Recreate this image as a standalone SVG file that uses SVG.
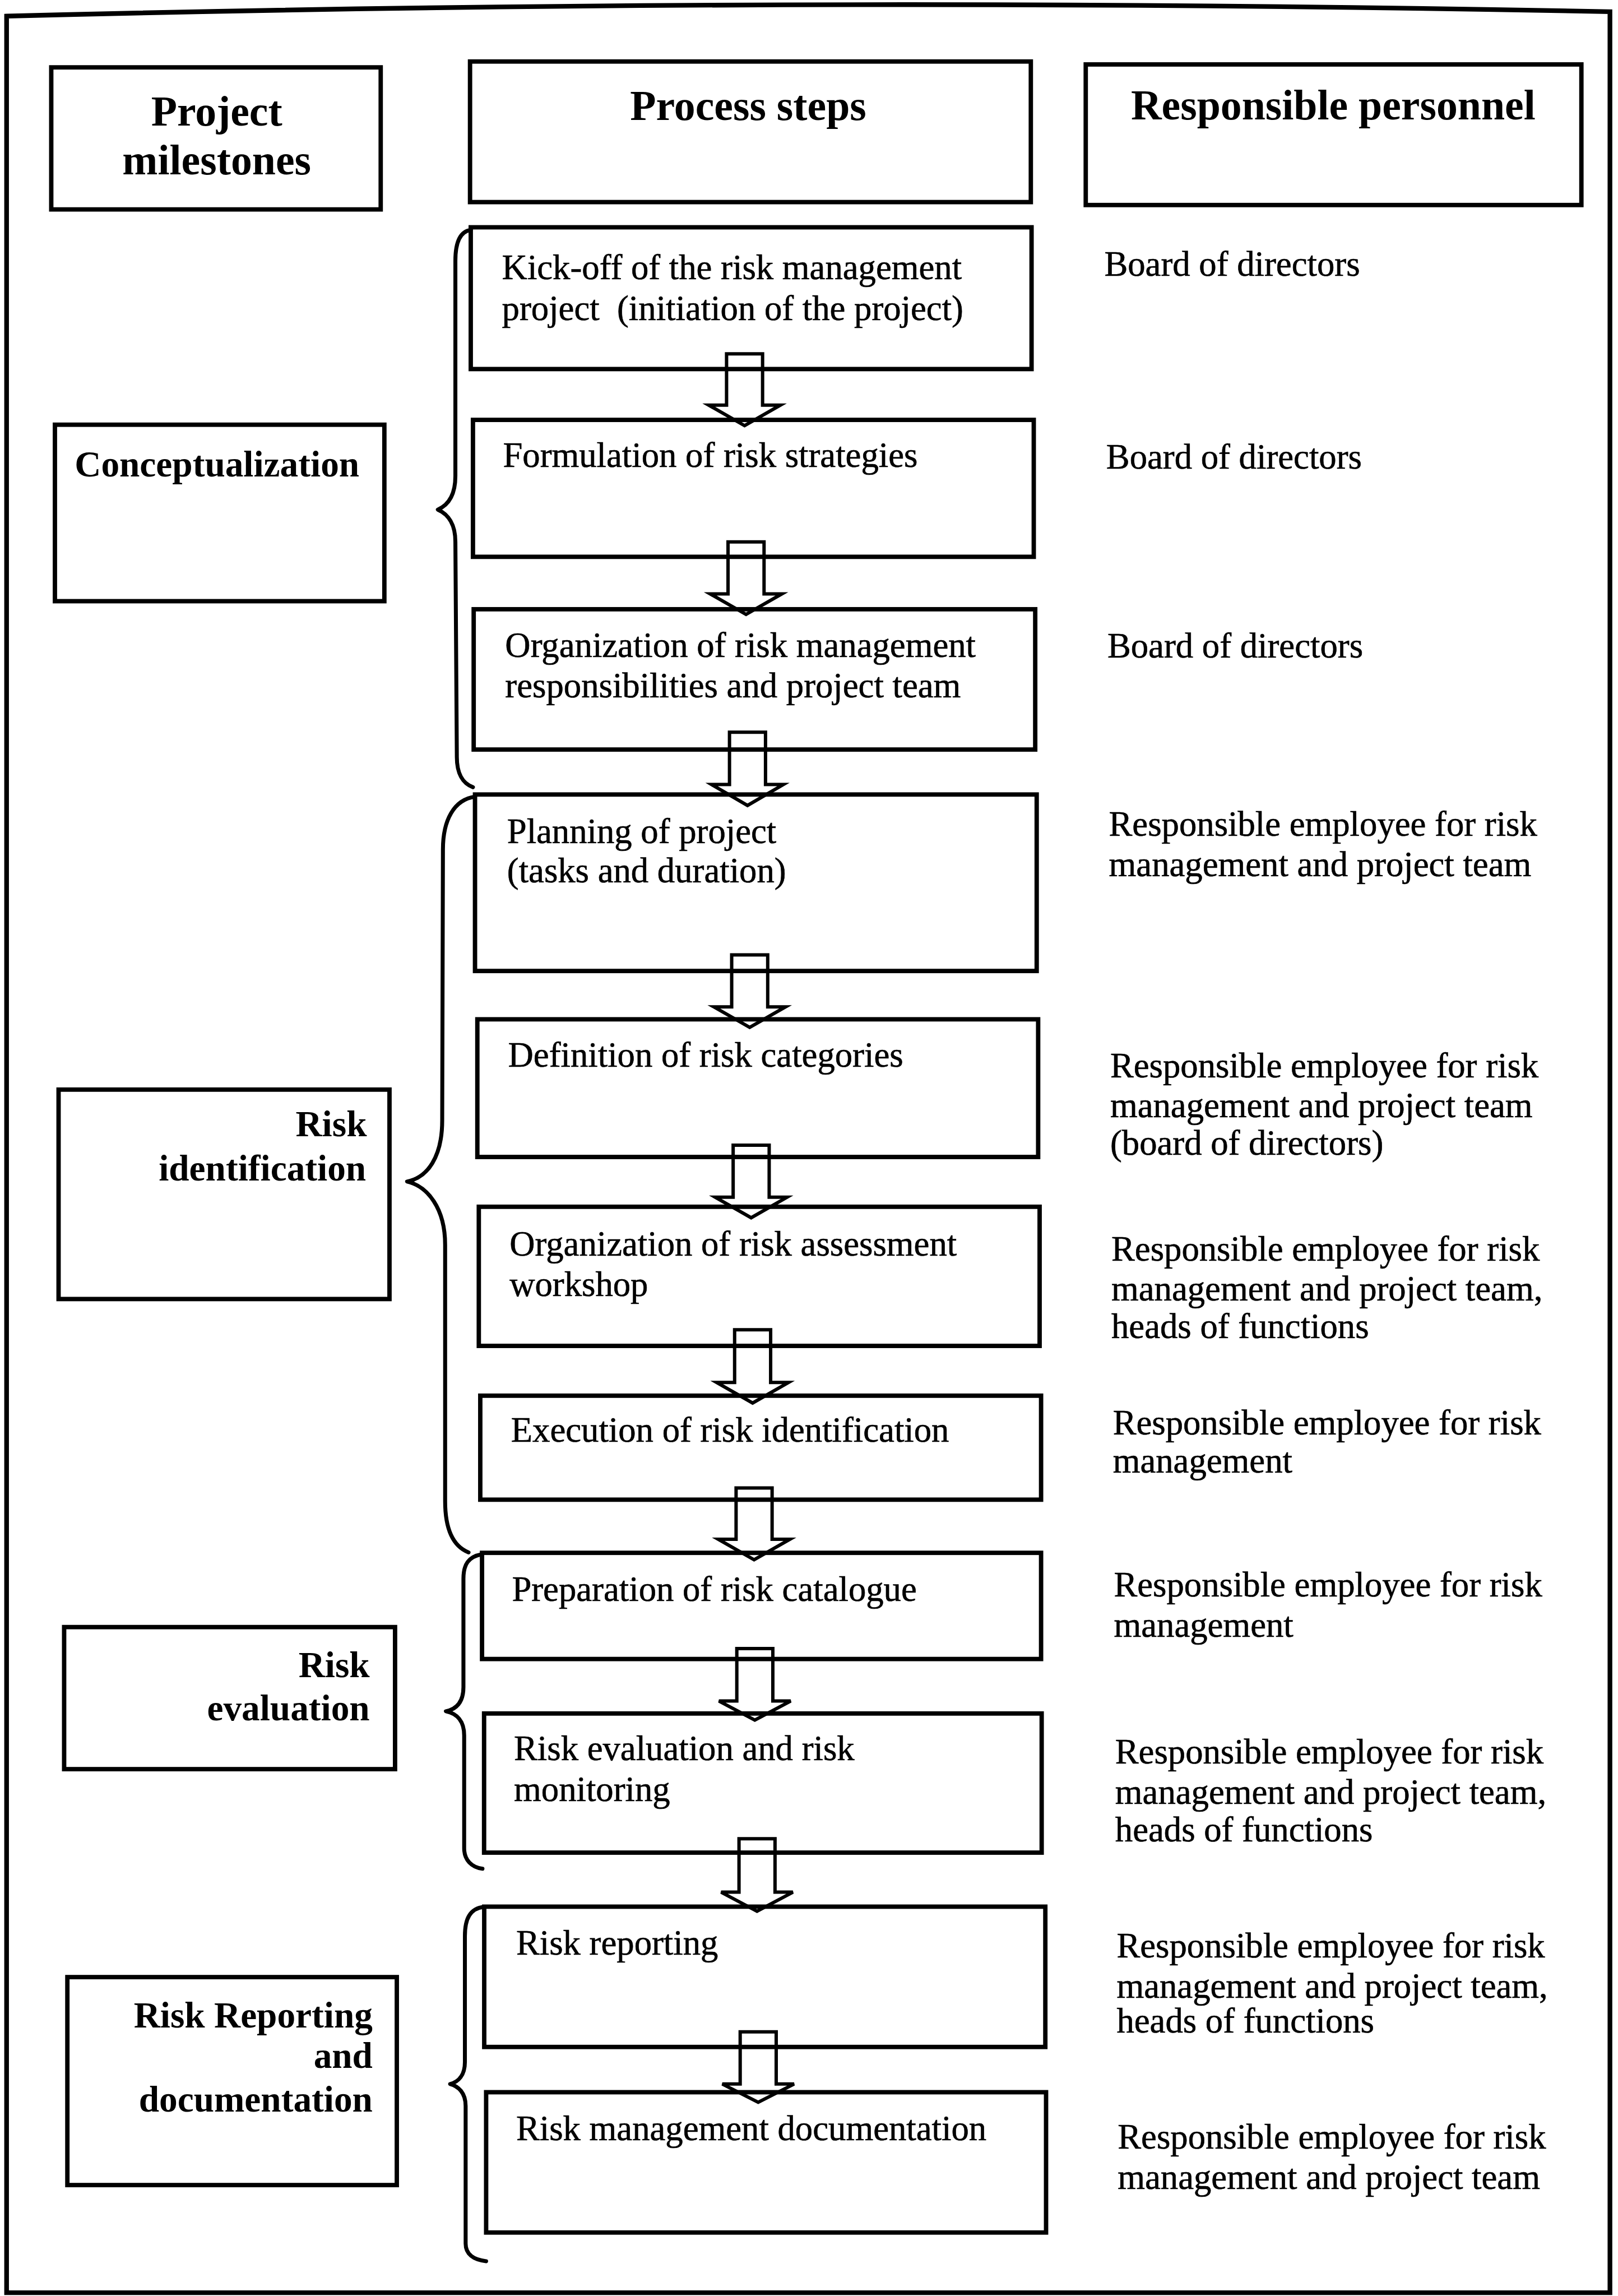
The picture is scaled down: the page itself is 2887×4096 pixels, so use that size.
<svg xmlns="http://www.w3.org/2000/svg" width="2887" height="4096" viewBox="0 0 2887 4096">
  <style>
    .box { fill: none; stroke: #000; stroke-width: 3; }
    .frame { fill: none; stroke: #000; stroke-width: 3.2; }
    .arrow { fill: #fff; stroke: #000; stroke-width: 2.3; stroke-linejoin: miter; }
    .brace { fill: none; stroke: #000; stroke-width: 2.7; stroke-linecap: round; stroke-linejoin: round; }
    text { font-family: "Liberation Serif", "Times New Roman", serif; fill: #000; }
    .hdr { font-weight: bold; font-size: 29px; text-anchor: middle; }
    .ms { font-weight: bold; font-size: 25px; }
    .msr { font-weight: bold; font-size: 25px; text-anchor: end; }
    .txt { font-size: 24px; stroke: #000; stroke-width: 0.25; }
  </style>
  <rect x="0" y="0" width="2887" height="4096" fill="#fff"/>
  <!-- drawing laid out on a 1105 x 1568 grid, scaled to the page -->
  <g transform="scale(2.61267)">
    <!-- outer frame -->
    <path class="frame" d="M 4.5 11 Q 552 -3 1099.5 8 L 1099.5 1565.5 L 4.5 1565.5 Z"/>

    <!-- column headers -->
    <g id="hdr-milestones">
      <rect class="box" x="35" y="46" width="225" height="97"/>
      <text class="hdr" x="148" y="85.8">Project</text>
      <text class="hdr" x="148" y="119">milestones</text>
    </g>
    <g id="hdr-steps">
      <rect class="box" x="321" y="42" width="383" height="96"/>
      <text class="hdr" x="511" y="82">Process steps</text>
    </g>
    <g id="hdr-personnel">
      <rect class="box" x="741.5" y="44" width="338.5" height="96"/>
      <text class="hdr" x="910.5" y="81.6">Responsible personnel</text>
    </g>

    <!-- connectors: block arrows between steps and braces grouping steps into milestones -->
    <g id="connectors">
      <polygon class="arrow" points="496.2,241.6 520.8,241.6 520.8,276.6 533,276.6 508.5,290.6 484,276.6 496.2,276.6"/>
      <polygon class="arrow" points="497.2,370 521.8,370 521.8,405.5 534,405.5 509.5,419.5 485,405.5 497.2,405.5"/>
      <polygon class="arrow" points="498.2,500 522.8,500 522.8,535.7 535,535.7 510.5,550 486,535.7 498.2,535.7"/>
      <polygon class="arrow" points="499.7,652 524.3,652 524.3,687.5 536.5,687.5 512,701.5 487.5,687.5 499.7,687.5"/>
      <polygon class="arrow" points="500.7,782 525.3,782 525.3,817.5 537.5,817.5 513,831.5 488.5,817.5 500.7,817.5"/>
      <polygon class="arrow" points="501.7,908 526.3,908 526.3,944 538.5,944 514,958 489.5,944 501.7,944"/>
      <polygon class="arrow" points="502.7,1016 527.3,1016 527.3,1051 539.5,1051 515,1065 490.5,1051 502.7,1051"/>
      <polygon class="arrow" points="503.2,1125.7 527.8,1125.7 527.8,1161.5 540,1161.5 515.5,1174.5 491,1161.5 503.2,1161.5"/>
      <polygon class="arrow" points="504.7,1255.5 529.3,1255.5 529.3,1292 541.5,1292 517,1305 492.5,1292 504.7,1292"/>
      <polygon class="arrow" points="505.5,1387.4 530.1,1387.4 530.1,1423 542.3,1423 517.8,1435.5 493.3,1423 505.5,1423"/>

      <path class="brace" d="M 321.5 157 C 314 158 311 166 311 178 L 311 325 C 311 338 306 345 299 348 C 306 351 311 358 311 370 L 312 517 C 312 528 316 535 323 537.5"/>
      <path class="brace" d="M 324.4 544 C 310 546 302.5 560 302.5 580 L 302 765 C 302 790 292 804 278 806.8 C 292 810 304 825 304 850 L 304 1025 C 304 1045 310 1056 320 1060"/>
      <path class="brace" d="M 329 1061.3 C 320 1063 316.5 1068 316.5 1078 L 316.5 1152 C 316.5 1162 312 1167 304.5 1168.5 C 312 1170 317 1175 317 1185 L 317 1262 C 317 1270 322 1275 329.5 1276"/>
      <path class="brace" d="M 330.7 1302 C 321 1303 317.5 1310 317.5 1322 L 317.5 1408 C 317.5 1417 313 1421.5 307.4 1423 C 313 1424.5 318 1429 318 1438 L 318 1532 C 318 1539 323 1543 332 1544"/>
    </g>

    <!-- project milestones -->
    <g id="ms-conceptualization">
      <rect class="box" x="37.5" y="290" width="225" height="120.5"/>
      <text class="ms" x="51" y="325.5">Conceptualization</text>
    </g>
    <g id="ms-identification">
      <rect class="box" x="40" y="744" width="226" height="143"/>
      <text class="msr" x="250.5" y="776">Risk</text>
      <text class="msr" x="250" y="806">identification</text>
    </g>
    <g id="ms-evaluation">
      <rect class="box" x="43.8" y="1111" width="226" height="97"/>
      <text class="msr" x="252.5" y="1145.3">Risk</text>
      <text class="msr" x="252.5" y="1174.8">evaluation</text>
    </g>
    <g id="ms-reporting">
      <rect class="box" x="46" y="1350" width="225" height="142"/>
      <text class="msr" x="254.5" y="1384.4">Risk Reporting</text>
      <text class="msr" x="254.5" y="1412">and</text>
      <text class="msr" x="254.5" y="1442">documentation</text>
    </g>

    <!-- process steps -->
    <g id="step-kickoff">
      <rect class="box" x="321.5" y="155.2" width="383" height="96.8"/>
      <text class="txt" x="342.8" y="190.6">Kick-off of the risk management</text>
      <text class="txt" x="342.8" y="218.5">project&#160; (initiation of the project)</text>
    </g>
    <g id="step-strategies">
      <rect class="box" x="323" y="286.7" width="383" height="93.5"/>
      <text class="txt" x="343.5" y="318.7">Formulation of risk strategies</text>
    </g>
    <g id="step-organization">
      <rect class="box" x="323.5" y="416" width="383.5" height="95.8"/>
      <text class="txt" x="345" y="448.7">Organization of risk management</text>
      <text class="txt" x="345" y="476.2">responsibilities and project team</text>
    </g>
    <g id="step-planning">
      <rect class="box" x="324.4" y="542.5" width="383.6" height="120.5"/>
      <text class="txt" x="346.3" y="575.6">Planning of project</text>
      <text class="txt" x="346.3" y="602.5">(tasks and duration)</text>
    </g>
    <g id="step-categories">
      <rect class="box" x="326" y="696" width="383" height="94"/>
      <text class="txt" x="347" y="728.5">Definition of risk categories</text>
    </g>
    <g id="step-workshop">
      <rect class="box" x="327" y="824" width="383" height="95"/>
      <text class="txt" x="348" y="857.5">Organization of risk assessment</text>
      <text class="txt" x="348" y="885">workshop</text>
    </g>
    <g id="step-identification">
      <rect class="box" x="328" y="953" width="383" height="71"/>
      <text class="txt" x="349" y="984.5">Execution of risk identification</text>
    </g>
    <g id="step-catalogue">
      <rect class="box" x="329.2" y="1060.3" width="381.8" height="72.5"/>
      <text class="txt" x="349.6" y="1093.3">Preparation of risk catalogue</text>
    </g>
    <g id="step-evaluation">
      <rect class="box" x="330.6" y="1170" width="380.8" height="95"/>
      <text class="txt" x="351" y="1202">Risk evaluation and risk</text>
      <text class="txt" x="351" y="1229.8">monitoring</text>
    </g>
    <g id="step-reporting">
      <rect class="box" x="330.7" y="1301.9" width="383.2" height="95.8"/>
      <text class="txt" x="352.5" y="1334.8">Risk reporting</text>
    </g>
    <g id="step-documentation">
      <rect class="box" x="332" y="1428.6" width="382.4" height="95.8"/>
      <text class="txt" x="352.5" y="1461.4">Risk management documentation</text>
    </g>

    <!-- responsible personnel -->
    <g id="resp-kickoff">
      <text class="txt" x="754.2" y="188.2">Board of directors</text>
    </g>
    <g id="resp-strategies">
      <text class="txt" x="755.5" y="320.1">Board of directors</text>
    </g>
    <g id="resp-organization">
      <text class="txt" x="756.3" y="448.9">Board of directors</text>
    </g>
    <g id="resp-planning">
      <text class="txt" x="757.3" y="570.7">Responsible employee for risk</text>
      <text class="txt" x="757.3" y="598.4">management and project team</text>
    </g>
    <g id="resp-categories">
      <text class="txt" x="758.2" y="735.7">Responsible employee for risk</text>
      <text class="txt" x="758.2" y="762.7">management and project team</text>
      <text class="txt" x="758.2" y="788.5">(board of directors)</text>
    </g>
    <g id="resp-workshop">
      <text class="txt" x="759" y="860.8">Responsible employee for risk</text>
      <text class="txt" x="759" y="887.8">management and project team,</text>
      <text class="txt" x="759" y="913.5">heads of functions</text>
    </g>
    <g id="resp-identification">
      <text class="txt" x="760" y="979.6">Responsible employee for risk</text>
      <text class="txt" x="760" y="1005.3">management</text>
    </g>
    <g id="resp-catalogue">
      <text class="txt" x="760.7" y="1090">Responsible employee for risk</text>
      <text class="txt" x="760.7" y="1117.5">management</text>
    </g>
    <g id="resp-evaluation">
      <text class="txt" x="761.6" y="1204">Responsible employee for risk</text>
      <text class="txt" x="761.6" y="1231.6">management and project team,</text>
      <text class="txt" x="761.6" y="1257.4">heads of functions</text>
    </g>
    <g id="resp-reporting">
      <text class="txt" x="762.6" y="1336.5">Responsible employee for risk</text>
      <text class="txt" x="762.6" y="1364">management and project team,</text>
      <text class="txt" x="762.6" y="1388">heads of functions</text>
    </g>
    <g id="resp-documentation">
      <text class="txt" x="763.3" y="1467">Responsible employee for risk</text>
      <text class="txt" x="763.3" y="1494.6">management and project team</text>
    </g>
  </g>
</svg>
